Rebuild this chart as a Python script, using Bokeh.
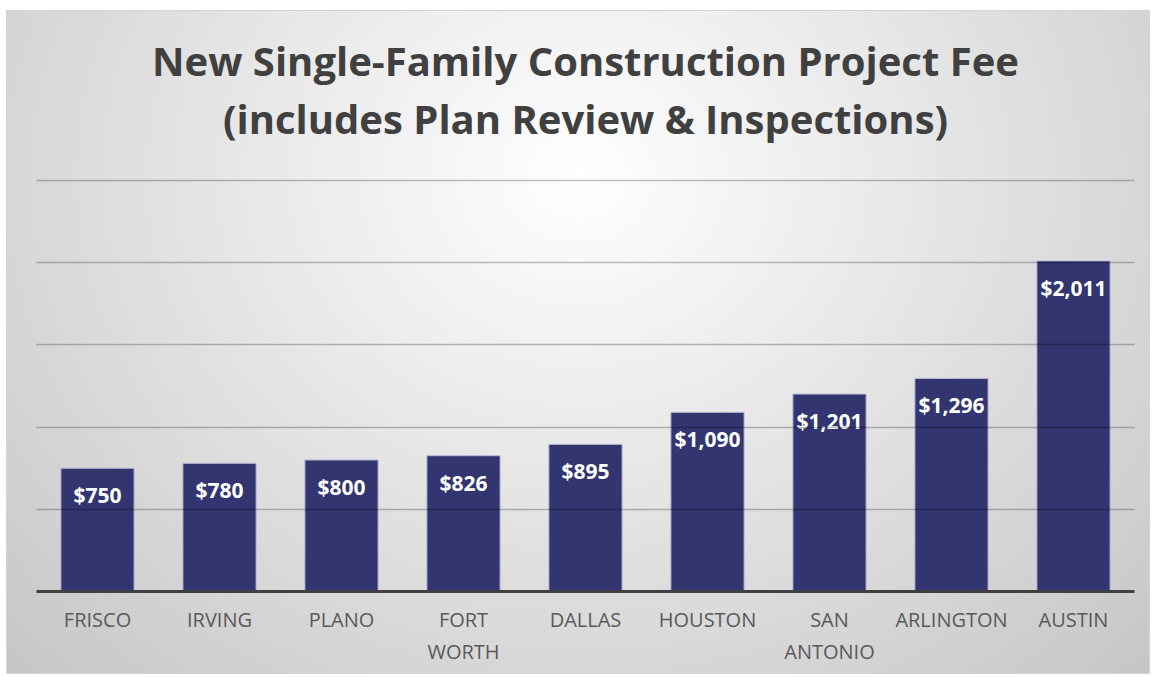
from bokeh.plotting import figure
from bokeh.models import ColumnDataSource, FixedTicker, Title, Spacer
from bokeh.layouts import column
from bokeh.core.properties import value
from bokeh.embed import file_html
from bokeh.resources import INLINE

cities = ["FRISCO", "IRVING", "PLANO", "FORT\nWORTH", "DALLAS", "HOUSTON", "SAN\nANTONIO", "ARLINGTON", "AUSTIN"]
fees = [750, 780, 800, 826, 895, 1090, 1201, 1296, 2011]
y_ticks = [0, 500, 1000, 1500, 2000, 2500]
title_line1 = "New Single-Family Construction Project Fee"
title_line2 = "(includes Plan Review & Inspections)"

labels = ["${:,}".format(v) for v in fees]
src = ColumnDataSource(dict(city=cities, fee=fees, label=labels))

p = figure(x_range=cities, y_range=(0, 2707), width=1142, height=644,
           output_backend="svg", toolbar_location=None,
           title=title_line1,
           min_border_left=29, min_border_right=15, min_border_bottom=82, min_border_top=0)

p.border_fill_color = None
p.background_fill_color = None
p.outline_line_color = None

title_style = dict(text_font="Open Sans", text_font_size="40px", text_font_style="bold",
                   text_color="#404040", align="center")
p.title.text_font = title_style["text_font"]
p.title.text_font_size = title_style["text_font_size"]
p.title.text_font_style = title_style["text_font_style"]
p.title.text_color = title_style["text_color"]
p.title.align = "center"
p.title.standoff = 2
t2 = Title(text=title_line2, standoff=1, **title_style)
p.add_layout(t2, "above")

p.vbar(x="city", top="fee", width=0.6, source=src, fill_color="#32356f", fill_alpha=1.0,
       line_color="#b8bad6", line_width=1)

p.text(x="city", y="fee", text="label", source=src, text_align="center", text_baseline="middle",
       y_offset=27, text_color="white", text_font=value("Open Sans"), text_font_style="bold",
       text_font_size="21px")

p.yaxis.visible = False
p.yaxis.ticker = FixedTicker(ticks=y_ticks)
p.ygrid.ticker = FixedTicker(ticks=y_ticks[1:])
p.ygrid.grid_line_color = "black"
p.ygrid.grid_line_alpha = 0.25
p.ygrid.grid_line_width = 1.5
p.ygrid.level = "overlay"
p.xgrid.visible = False

p.xaxis.axis_line_color = "#404040"
p.xaxis.axis_line_width = 3
p.xaxis.major_tick_line_color = None
p.xaxis.minor_tick_line_color = None
p.xaxis.major_label_text_font = "Open Sans"
p.xaxis.major_label_text_font_size = "20px"
p.xaxis.major_label_text_color = "#595959"
p.xaxis.major_label_standoff = 8
p.x_range.range_padding = 0

layout = column(Spacer(width=1142, height=18), p, spacing=0)
layout.styles = {"background": "radial-gradient(ellipse farthest-corner at 50% 25%, #ffffff 0%, #eeeeee 30%, #c6c6c6 100%)",
                 "border": "1px solid #d4d4d4", "margin-left": "6px", "margin-top": "10px"}

open("out.html", "w").write(file_html(layout, INLINE))
